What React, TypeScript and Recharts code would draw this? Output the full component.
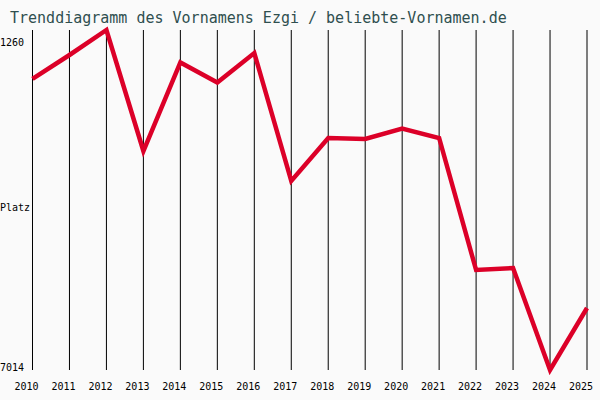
import React from "react";
import { LineChart, Line, XAxis, YAxis, CartesianGrid } from "recharts";

const years = [2010, 2011, 2012, 2013, 2014, 2015, 2016, 2017, 2018, 2019, 2020, 2021, 2022, 2023, 2024, 2025];
const ranks = [2089, 1683, 1260, 3308, 1810, 2148, 1649, 3815, 3088, 3105, 2927, 3088, 5322, 5288, 7014, 5965];
const yTicks = [1260, 4137, 7014];
const yTickLabels = ["1260", "Platz", "7014"];
const yTickShift = [12, 7, -3];
const title = "Trenddiagramm des Vornamens Ezgi / beliebte-Vornamen.de";

const data = years.map((y, i) => ({ year: y, rank: ranks[i] }));

const XTick = (props: any) => {
  const { x, y, payload } = props;
  return (
    <text x={x - 6} y={y + 8} textAnchor="middle" dominantBaseline="central" fontFamily="DejaVu Sans Mono" fontSize={10} fill="#000">
      {payload.value}
    </text>
  );
};

const YTick = (props: any) => {
  const { y, payload } = props;
  const idx = yTicks.indexOf(payload.value);
  return (
    <text x={0} y={y + (yTickShift[idx] ?? 0)} textAnchor="start" dominantBaseline="central" fontFamily="DejaVu Sans Mono" fontSize={10} fill="#000">
      {yTickLabels[idx]}
    </text>
  );
};

export default function App() {
  return (
    <div style={{ position: "absolute", left: 0, top: 0, width: 600, height: 400, background: "#fafafa" }}>
      <svg style={{ position: "absolute", left: 0, top: 0 }} width={600} height={30}>
        <text x={10} y={18} dominantBaseline="central" fontFamily="DejaVu Sans Mono" fontSize={15} fill="#2f4f4f">
          {title}
        </text>
      </svg>
      <LineChart width={600} height={400} data={data} margin={{ top: 30, right: 13, left: 0, bottom: 0 }}>
        <CartesianGrid horizontal={false} vertical={true} stroke="#000" strokeWidth={1} />
        <XAxis
          dataKey="year"
          type="number"
          domain={[2010, 2025]}
          ticks={years}
          interval={0}
          axisLine={false}
          tickLine={false}
          height={30}
          tick={<XTick />}
        />
        <YAxis
          type="number"
          domain={[1260, 7014]}
          reversed
          ticks={yTicks}
          interval={0}
          axisLine={false}
          tickLine={false}
          width={32.5}
          tick={<YTick />}
        />
        <Line
          type="linear"
          dataKey="rank"
          stroke="#dc0028"
          strokeWidth={4.5}
          dot={false}
          isAnimationActive={false}
        />
      </LineChart>
    </div>
  );
}
